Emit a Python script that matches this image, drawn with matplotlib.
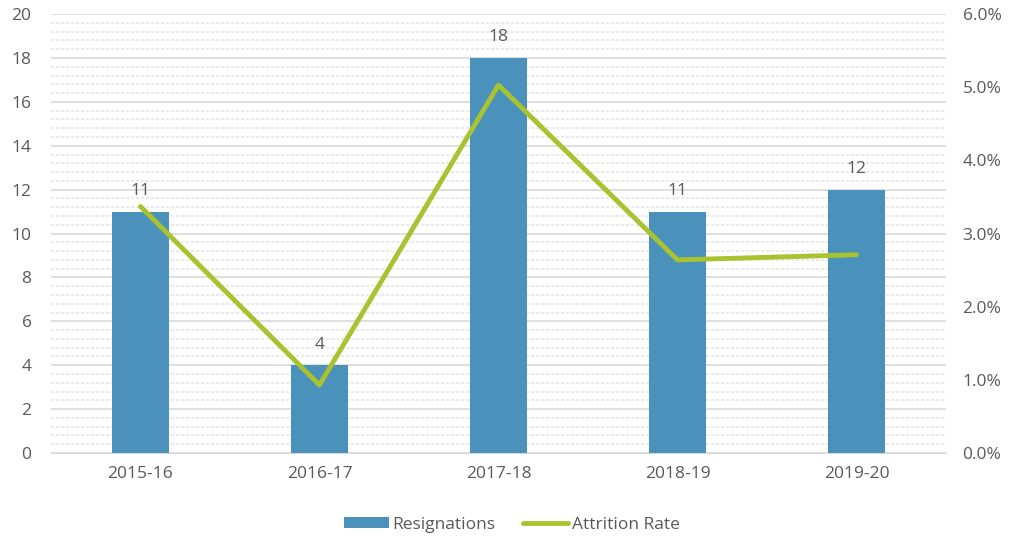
import matplotlib
matplotlib.use("Agg")
import matplotlib.pyplot as plt
import numpy as np
from matplotlib.ticker import MultipleLocator, FuncFormatter

plt.rcParams['font.family'] = ['Open Sans', 'DejaVu Sans']

years = ["2015-16", "2016-17", "2017-18", "2018-19", "2019-20"]
resignations = [11, 4, 18, 11, 12]
attrition_rate = [3.37, 0.93, 5.03, 2.64, 2.71]  # percent

BAR_COLOR = '#4a92bb'
LINE_COLOR = '#a9c22f'
TEXT_COLOR = '#595959'

fig = plt.figure(figsize=(10.09, 5.40), dpi=100)
ax = fig.add_axes([0.0505, 0.161, 0.887, 0.813])
ax2 = ax.twinx()

x = np.arange(len(years))
ax.bar(x, resignations, width=0.32, color=BAR_COLOR, label='Resignations', zorder=3)
for xi, v in zip(x, resignations):
    ax.annotate(str(v), (xi, v), xytext=(0, 9), textcoords='offset points',
                ha='center', va='bottom', fontsize=12.5, color=TEXT_COLOR)

ax2.plot(x, attrition_rate, color=LINE_COLOR, linewidth=3.5, label='Attrition Rate',
         solid_capstyle='round', zorder=4)

ax.set_xlim(-0.5, len(years) - 0.5)
ax.set_ylim(0, 20)
ax.yaxis.set_major_locator(MultipleLocator(2))
ax.yaxis.set_minor_locator(MultipleLocator(0.4))
ax2.set_ylim(0, 6)
ax2.yaxis.set_major_locator(MultipleLocator(1))
ax2.yaxis.set_major_formatter(FuncFormatter(lambda v, p: f"{v:.1f}%"))

ax.grid(True, which='major', axis='y', color='#d9d9d9', linewidth=1.2, zorder=0)
ax.grid(True, which='minor', axis='y', color='#e6e6e6', linewidth=1.2, linestyle=(0, (2, 1)), zorder=0)
ax.set_axisbelow(True)

ax.set_xticks(x)
ax.set_xticklabels(years)
for a in (ax, ax2):
    for s in a.spines.values():
        s.set_visible(False)
    a.tick_params(which='both', length=0, labelsize=12.5, colors=TEXT_COLOR)
ax.spines['bottom'].set_visible(True)
ax.spines['bottom'].set_color('#d9d9d9')
ax.tick_params(axis='x', pad=9)
ax.tick_params(axis='y', pad=14)
ax2.tick_params(axis='y', pad=12)

h1, l1 = ax.get_legend_handles_labels()
h2, l2 = ax2.get_legend_handles_labels()
leg = fig.legend(h1 + h2, l1 + l2, loc='center', bbox_to_anchor=(0.507, 0.028), ncol=2,
                 frameon=False, fontsize=12.5, handlelength=2.6, handleheight=0.6,
                 columnspacing=1.6, handletextpad=0.2)
for t in leg.get_texts():
    t.set_color(TEXT_COLOR)

fig.savefig("out.png", dpi=100)
